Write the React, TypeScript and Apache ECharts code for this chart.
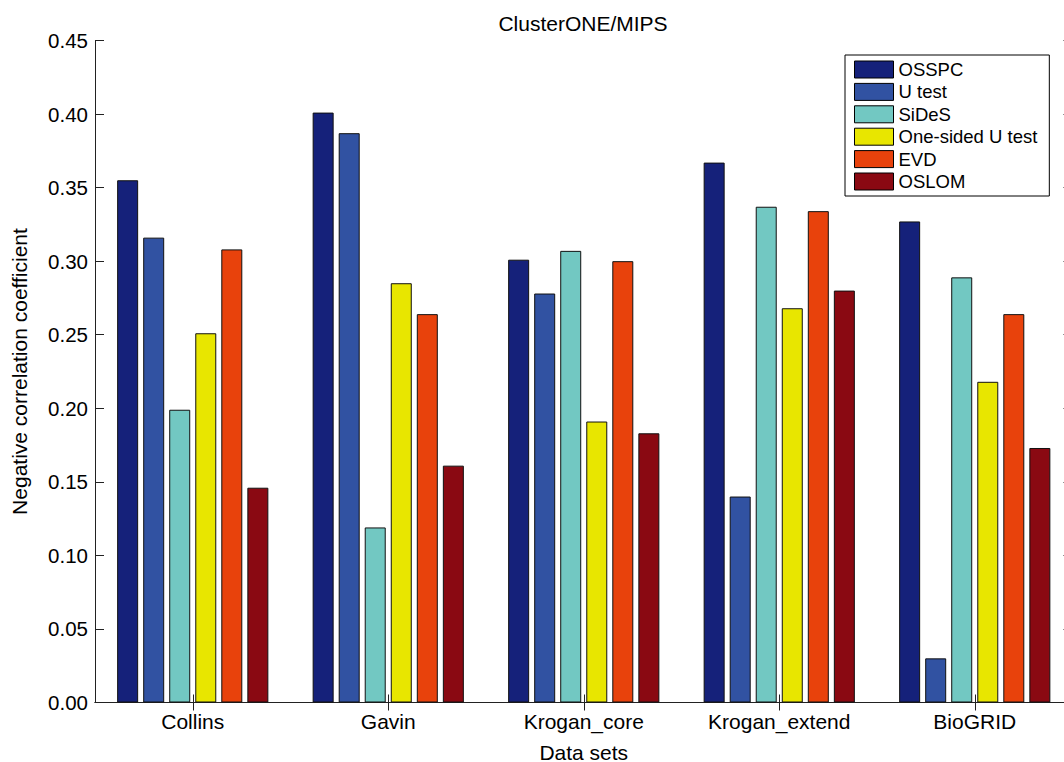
import React, { useEffect, useRef } from "react";
import * as echarts from "echarts";

const categories = ["Collins", "Gavin", "Krogan_core", "Krogan_extend", "BioGRID"];
const seriesNames = ["OSSPC", "U test", "SiDeS", "One-sided U test", "EVD", "OSLOM"];
const osspc = [0.355, 0.401, 0.301, 0.367, 0.327];
const uTest = [0.316, 0.387, 0.278, 0.140, 0.030];
const sides = [0.199, 0.119, 0.307, 0.337, 0.289];
const oneSided = [0.251, 0.285, 0.191, 0.268, 0.218];
const evd = [0.308, 0.264, 0.300, 0.334, 0.264];
const oslom = [0.146, 0.161, 0.183, 0.280, 0.173];
const colors = ["#15217a", "#3152a2", "#72c8c2", "#e8e600", "#e8420c", "#8a0912"];

const FONT = "'Liberation Sans', Arial, sans-serif";

export default function App() {
  const ref = useRef<HTMLDivElement>(null);
  useEffect(() => {
    if (!ref.current) return;
    const chart = echarts.init(ref.current, undefined, { renderer: "svg" });
    const values = [osspc, uTest, sides, oneSided, evd, oslom];
    const axisLine = { show: true, lineStyle: { color: "#222", width: 1 } };
    chart.setOption({
      animation: false,
      backgroundColor: "#fff",
      title: {
        text: "ClusterONE/MIPS",
        left: 578,
        textAlign: "center",
        top: 8,
        textStyle: { fontFamily: FONT, fontSize: 21, fontWeight: "normal", color: "#000" },
      },
      legend: {
        orient: "vertical",
        left: 845,
        top: 55,
        padding: [5, 12, 5, 9],
        itemWidth: 39,
        itemHeight: 17,
        itemGap: 3.4,
        borderColor: "#000",
        borderWidth: 1,
        backgroundColor: "#fff",
        icon: "rect",
        itemStyle: { borderColor: "#000", borderWidth: 1 },
        textStyle: { fontFamily: FONT, fontSize: 18.5, color: "#000" },
        data: seriesNames,
      },
      grid: { left: 95, top: 40.5, right: -8.5, bottom: 59.5, containLabel: false, outerBoundsMode: "none" },
      xAxis: [
        {
          type: "category",
          data: categories,
          position: "bottom",
          axisLine,
          axisTick: { show: true, inside: true, alignWithLabel: true, length: 8, lineStyle: { color: "#222" } },
          axisLabel: { fontFamily: FONT, fontSize: 21, color: "#000", margin: 8 },
          name: "Data sets",
          nameLocation: "middle",
          nameGap: 39,
          nameTextStyle: { fontFamily: FONT, fontSize: 21, color: "#000" },
        },
        {
          type: "category",
          data: categories,
          position: "top",
          axisLine,
          axisTick: { show: true, inside: true, alignWithLabel: true, length: 8, lineStyle: { color: "#222" } },
          axisLabel: { show: false },
        },
      ],
      yAxis: [
        {
          type: "value",
          min: 0,
          max: 0.45,
          interval: 0.05,
          position: "left",
          axisLine,
          splitLine: { show: false },
          axisTick: { show: true, inside: true, length: 9, lineStyle: { color: "#222" } },
          axisLabel: {
            fontFamily: FONT,
            fontSize: 20.5,
            color: "#000",
            margin: 7,
            formatter: (v: number) => v.toFixed(2),
          },
          name: "Negative correlation coefficient",
          nameLocation: "middle",
          nameGap: 65,
          nameTextStyle: { fontFamily: FONT, fontSize: 21, color: "#000" },
        },
        {
          type: "value",
          min: 0,
          max: 0.45,
          interval: 0.05,
          position: "right",
          axisLine,
          splitLine: { show: false },
          axisTick: { show: true, inside: true, length: 9, lineStyle: { color: "#222" } },
          axisLabel: { show: false },
        },
      ],
      series: seriesNames.map((name, i) => ({
        name,
        type: "bar",
        xAxisIndex: 0,
        yAxisIndex: 0,
        data: values[i],
        barWidth: 21,
        barGap: "24%",
        itemStyle: { color: colors[i], borderColor: "#111", borderWidth: 1 },
      })),
    });
    return () => chart.dispose();
  }, []);
  return (
    <div
      ref={ref}
      style={{ position: "fixed", left: 0, top: 0, width: 1064, height: 762, background: "#fff" }}
    />
  );
}
